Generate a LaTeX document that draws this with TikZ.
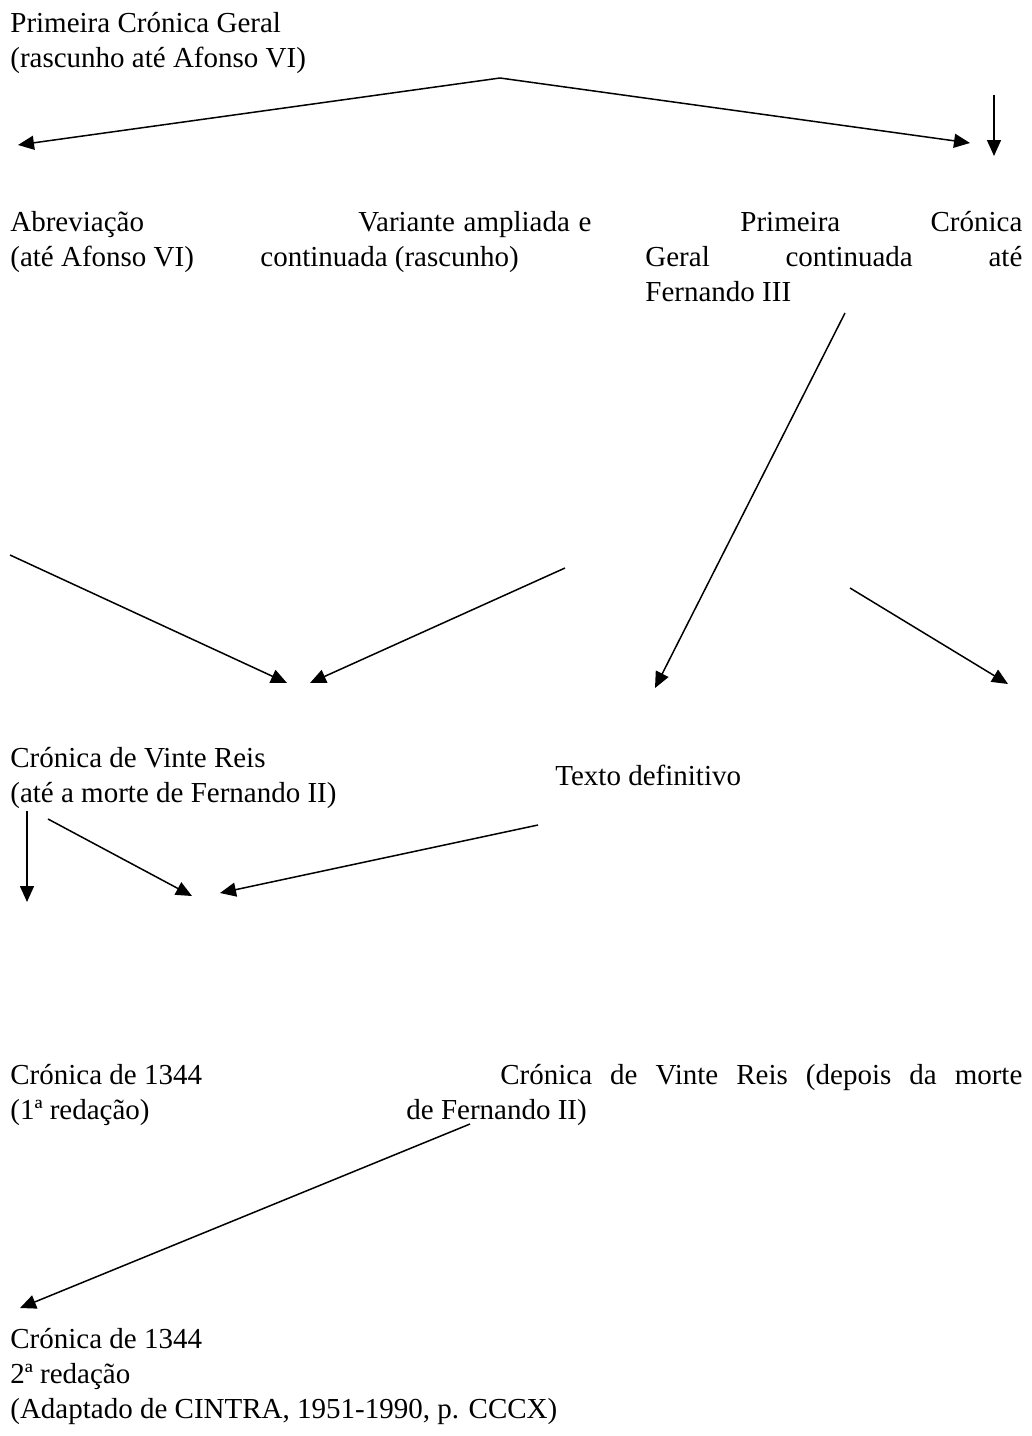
\documentclass[tikz,border=0pt]{standalone}
\usepackage{fontspec}
\setmainfont{Liberation Serif}
\usetikzlibrary{arrows.meta}

\tikzset{
  txt/.style={anchor=base west, inner sep=0pt, font=\fontsize{14.5}{17.5}\selectfont},
  seta/.style={line width=0.75pt, -{Triangle[length=8pt,width=7pt]}}
}

\begin{document}
\begin{tikzpicture}[x=0.5pt,y=-0.5pt]
        \useasboundingbox (0,0) rectangle (1032,1436);

        % primeira linha
        \node[txt] (pcgA) at (10,32) {Primeira Crónica Geral};
        \node[txt] (pcgB) at (10,67) {(rascunho até Afonso VI)};

        \coordinate (topo) at (500,78);
        \coordinate (abrevTip) at (18,145);
        \coordinate (varTip) at (970,143);
        \coordinate (contTop) at (994,95);
        \coordinate (contTip) at (994,156);
        \draw[seta] (topo) -- (abrevTip);
        \draw[seta] (topo) -- (varTip);
        \draw[seta] (contTop) -- (contTip);

        % segunda linha
        \node[txt] (abrA) at (10,231) {Abreviação};
        \node[txt] (abrB) at (10,266) {(até Afonso VI)};
        \node[txt] (varA) at (358,231) {\makebox[116.5pt][s]{Variante ampliada e}};
        \node[txt] (varB) at (260,266) {continuada (rascunho)};
        \node[txt] (pcgcA) at (740,231) {\makebox[141pt][s]{Primeira Crónica}};
        \node[txt] (pcgcB) at (645,266) {\makebox[188.5pt][s]{Geral continuada até}};
        \node[txt] (pcgcC) at (645,301) {Fernando III};

        \coordinate (fIIIa) at (845,313);
        \coordinate (fIIIb) at (655,688);
        \coordinate (abrevA) at (10,555);
        \coordinate (abrevB) at (287,683);
        \coordinate (varA1) at (565,568);
        \coordinate (varB1) at (310,683);
        \coordinate (defA) at (850,588);
        \coordinate (defB) at (1008,684);
        \draw[seta] (fIIIa) -- (fIIIb);
        \draw[seta] (abrevA) -- (abrevB);
        \draw[seta] (varA1) -- (varB1);
        \draw[seta] (defA) -- (defB);

        % terceira linha
        \node[txt] (cvrA) at (10,767) {Crónica de Vinte Reis};
        \node[txt] (cvrB) at (10,802) {(até a morte de Fernando II)};
        \node[txt] (texdef) at (555,785) {Texto definitivo};

        \coordinate (cvrDownA) at (27,811);
        \coordinate (cvrDownB) at (27,902);
        \coordinate (cvrDiagA) at (48,819);
        \coordinate (cvrDiagB) at (192,896);
        \coordinate (defDiagA) at (538,825);
        \coordinate (defDiagB) at (220,893);
        \draw[seta] (cvrDownA) -- (cvrDownB);
        \draw[seta] (cvrDiagA) -- (cvrDiagB);
        \draw[seta] (defDiagA) -- (defDiagB);

        % quarta linha
        \node[txt] (c1344A) at (10,1084) {Crónica de 1344};
        \node[txt] (c1344B) at (10,1119) {(1ª redação)};
        \node[txt] (cvrdA) at (500,1084) {\makebox[261pt][s]{Crónica de Vinte Reis (depois da morte}};
        \node[txt] (cvrdB) at (406,1119) {de Fernando II)};

        \coordinate (segA) at (470,1124);
        \coordinate (segB) at (20,1308);
        \draw[seta] (segA) -- (segB);

        % final
        \node[txt] (c2A) at (10,1348) {Crónica de 1344};
        \node[txt] (c2B) at (10,1383) {2ª redação};
        \node[txt] (fonte) at (10,1418) {(Adaptado de CINTRA, 1951-1990, p. CCCX)};
    \end{tikzpicture}
\end{document}
